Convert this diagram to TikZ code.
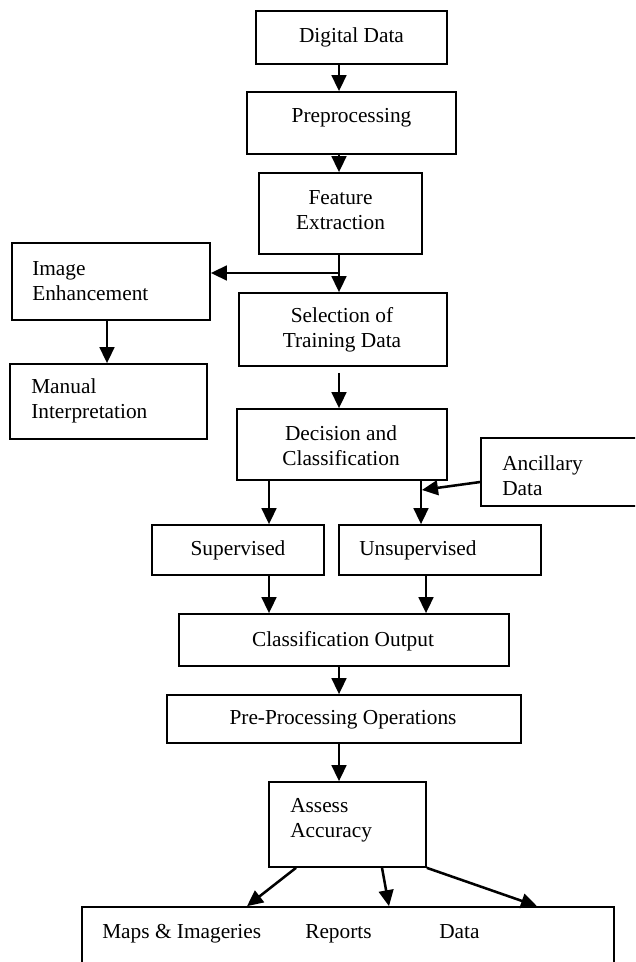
\documentclass[tikz,border=0pt]{standalone}
\usepackage{fontspec}
\setmainfont{Liberation Serif}
\usetikzlibrary{arrows.meta,calc}
\begin{document}
\begin{tikzpicture}[x=0.75pt,y=-0.75pt,
  bx/.style 2 args={draw, line width=1.25pt, minimum width=#1*0.75pt, minimum height=#2*0.75pt, inner sep=0pt},
  tx/.style={font=\fontsize{16}{18.75}\selectfont, align=center, inner sep=0pt},
  tl/.style={tx, align=left, anchor=west},
  tb/.style={tx, anchor=base west},
  arr/.style={line width=1.9pt, -{Triangle[length=12pt,width=11pt]}}]
\useasboundingbox (0,0) rectangle (635,962);
\clip (0,0) rectangle (635,962);
% column coordinates
\coordinate (spine) at (339,0);
\coordinate (lcol) at (107,0);
\coordinate (scol) at (269,0);
\coordinate (ucol) at (421,0);
\coordinate (ucol2) at (426,0);
% boxes
\node[bx={191}{53}] (dd) at (351.5,37.5) {};
\node[bx={209}{62}] (pre) at (351.5,123) {};
\node[bx={163}{81}] (fe) at (340.5,213.5) {};
\node[bx={198}{77}] (ie) at (111,281.5) {};
\node[bx={197}{75}] (mi) at (108.5,401.5) {};
\node[bx={208}{73}] (sel) at (343,329.5) {};
\node[bx={210}{71}] (dec) at (342,444.5) {};
\node[bx={200}{68}] (anc) at (581,472) {};
\node[bx={172}{50}] (sup) at (238,550) {};
\node[bx={202}{50}] (uns) at (440,550) {};
\node[bx={330}{52}] (co) at (344,640) {};
\node[bx={354}{48}] (ppo) at (344,719) {};
\node[bx={157}{85}] (aa) at (347.5,824.5) {};
\node[bx={532}{110}] (out) at (348,962) {};
% texts
\node[tx] (ddt) at (351.5,37) {Digital Data};
\node[tx] (pret) at (351.5,118) {Preprocessing};
\node[tx] (fet) at (340.5,210) {Feature\\Extraction};
\node[tl] (iet) at (32,281) {Image\\Enhancement};
\node[tl] (mit) at (31,400.5) {Manual\\Interpretation};
\node[tx] (selt) at (342,330) {Selection of\\Training Data};
\node[tx] (dect) at (341,446) {Decision and\\Classification};
\node[tl] (anct) at (502,476) {Ancillary\\Data};
\node[tx] (supt) at (238,550) {Supervised};
\node[tl] (unst) at (359,550) {Unsupervised};
\node[tx] (cot) at (343,641) {Classification Output};
\node[tx] (ppot) at (343,720) {Pre-Processing Operations};
\node[tl] (aat) at (290,820.5) {Assess\\Accuracy};
\node[tb] (o1) at (102,938) {Maps \& Imageries};
\node[tb] (o2) at (305,938) {Reports};
\node[tb] (o3) at (439,938) {Data};
% connectors
\draw[arr] (dd.south -| spine) -- (pre.north -| spine);
\draw[arr] (pre.south -| spine) -- (fe.north -| spine);
\draw[arr] (fe.south -| spine) -- (sel.north -| spine);
\coordinate (br) at (339,273);
\draw[arr] (br) -- (br -| ie.east);
\draw[arr] (ie.south -| lcol) -- (mi.north -| lcol);
\draw[arr] ($(sel.south -| spine)+(0,6)$) -- (dec.north -| spine);
\draw[arr] (dec.south -| scol) -- (sup.north -| scol);
\draw[arr] (dec.south -| ucol) -- (uns.north -| ucol);
\coordinate (ancin) at (422,490);
\draw[arr] (anc.west |- 0,482) -- (ancin);
\draw[arr] (sup.south -| scol) -- (co.north -| scol);
\draw[arr] (uns.south -| ucol2) -- (co.north -| ucol2);
\draw[arr] (co.south -| spine) -- (ppo.north -| spine);
\draw[arr] (ppo.south -| spine) -- (aa.north -| spine);
\draw[arr] (aa.south -| 296,0) -- (out.north -| 247,0);
\draw[arr] (aa.south -| 382,0) -- (out.north -| 389,0);
\draw[arr] (aa.south east) -- (out.north -| 537,0);
\end{tikzpicture}
\end{document}
